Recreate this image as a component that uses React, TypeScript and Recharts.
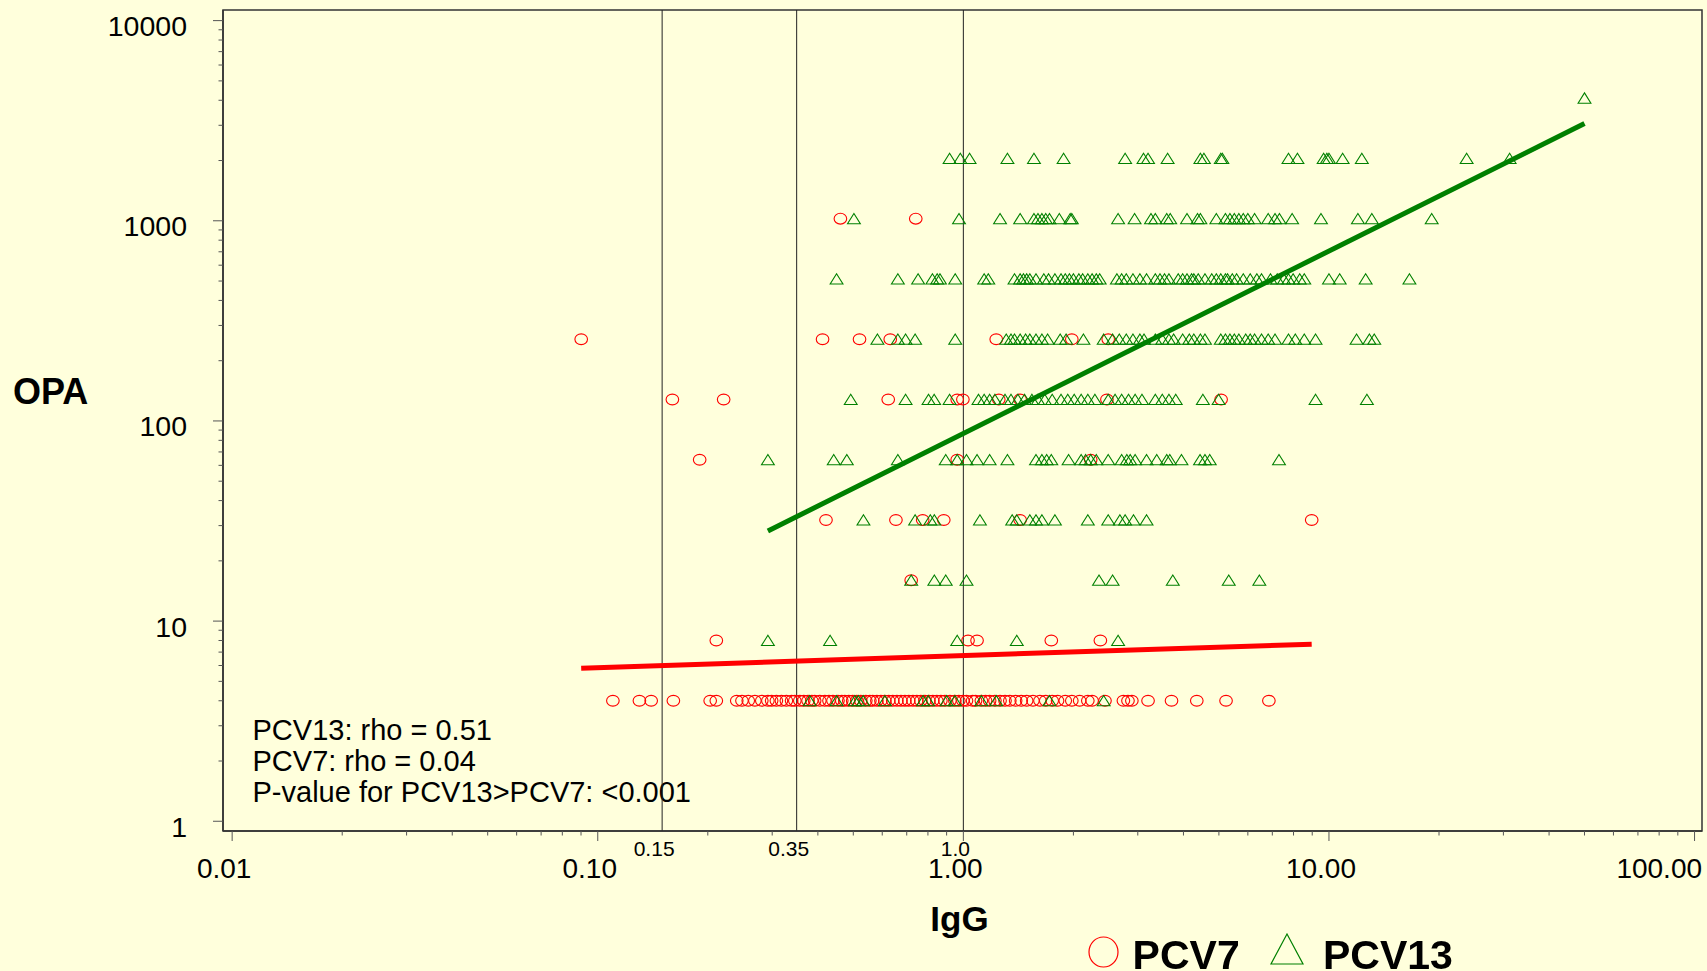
import React from "react";
import { ScatterChart, Scatter, XAxis, YAxis, ReferenceLine, ReferenceArea, Legend } from "recharts";

// OPA titre rows (doubling dilutions); each row array below lists IgG values
const opaLevels = [4, 8, 16, 32, 64, 128, 256, 512, 1024, 2048, 4096];

// PCV7 (circles) IgG values per OPA row
const pcv7At4 = [
  0.11, 0.13, 0.14, 0.161, 0.203, 0.211, 0.24, 0.248, 0.258, 0.269, 0.281, 0.292, 0.299, 0.308, 0.318,
  0.328, 0.339, 0.346, 0.357, 0.366, 0.376, 0.385, 0.392, 0.405, 0.418, 0.429, 0.44, 0.454, 0.465, 0.474,
  0.486, 0.498, 0.511, 0.524, 0.541, 0.555, 0.565, 0.58, 0.595, 0.61, 0.625, 0.641, 0.658, 0.675, 0.692,
  0.709, 0.728, 0.746, 0.765, 0.785, 0.805, 0.825, 0.846, 0.868, 0.89, 0.919, 0.948, 0.972, 0.997, 1.02,
  1.06, 1.08, 1.12, 1.15, 1.18, 1.22, 1.26, 1.3, 1.34, 1.39, 1.44, 1.49, 1.55, 1.62, 1.68, 1.75, 1.81,
  1.9, 1.98, 2.08, 2.19, 2.25, 2.44, 2.74, 2.82, 2.89, 3.2, 3.71, 4.35, 5.23, 6.85,
];
const pcv7At8 = [0.211, 1.03, 1.09, 1.74, 2.37];
const pcv7At16 = [0.72];
const pcv7At32 = [0.421, 0.654, 0.774, 0.884, 1.43, 8.97];
const pcv7At64 = [0.19, 0.962, 2.23];
const pcv7At128 = [0.16, 0.221, 0.623, 0.962, 0.997, 1.25, 1.43, 2.47, 5.07];
const pcv7At256 = [0.0901, 0.412, 0.52, 0.631, 1.23, 1.98, 2.49];
const pcv7At512: number[] = [];
const pcv7At1024 = [0.461, 0.741];
const pcv7At2048: number[] = [];
const pcv7At4096: number[] = [];

// PCV13 (triangles) IgG values per OPA row
const pcv13At4 = [0.38, 0.45, 0.505, 0.516, 0.532, 0.61, 0.776, 0.801, 0.9, 0.948, 1.12, 1.23, 1.72, 2.42];
const pcv13At8 = [0.292, 0.432, 0.962, 1.4, 2.65];
const pcv13At16 = [0.72, 0.833, 0.895, 1.02, 2.35, 2.56, 3.74, 5.32, 6.45];
const pcv13At32 = [
  0.533, 0.738, 0.812, 0.833, 1.11, 1.36, 1.4, 1.52, 1.58, 1.64, 1.78, 2.19, 2.49, 2.68, 2.77, 2.92, 3.17,
];
const pcv13At64 = [
  0.292, 0.442, 0.48, 0.662, 0.895, 0.962, 1.02, 1.09, 1.18, 1.32, 1.58, 1.64, 1.69, 1.74, 1.94, 2.1, 2.16,
  2.23, 2.31, 2.49, 2.71, 2.8, 2.86, 2.95, 3.17, 3.38, 3.6, 3.67, 3.95, 4.44, 4.58, 4.72, 7.3,
];
const pcv13At128 = [
  0.492, 0.695, 0.803, 0.832, 0.917, 1.1, 1.14, 1.18, 1.22, 1.3, 1.35, 1.41, 1.47, 1.54, 1.6, 1.67, 1.75,
  1.85, 1.93, 2.01, 2.1, 2.19, 2.29, 2.49, 2.6, 2.71, 2.83, 2.95, 3.08, 3.35, 3.5, 3.65, 3.81, 4.52, 4.99,
  9.19, 12.7,
];
const pcv13At256 = [
  0.582, 0.662, 0.695, 0.738, 0.95, 1.31, 1.35, 1.38, 1.43, 1.48, 1.52, 1.58, 1.64, 1.7, 1.84, 1.91, 2.13,
  2.42, 2.56, 2.67, 2.79, 2.91, 3.04, 3.12, 3.35, 3.5, 3.65, 3.76, 3.98, 4.15, 4.27, 4.45, 4.58, 5.06, 5.21,
  5.36, 5.51, 5.67, 5.92, 6.09, 6.26, 6.54, 6.82, 7.12, 7.75, 8.09, 8.56, 9.19, 11.9, 12.9, 13.3,
];
const pcv13At512 = [
  0.45, 0.662, 0.752, 0.823, 0.848, 0.863, 0.95, 1.14, 1.17, 1.38, 1.43, 1.46, 1.49, 1.52, 1.58, 1.66, 1.71,
  1.78, 1.85, 1.9, 1.95, 2.0, 2.07, 2.12, 2.19, 2.25, 2.31, 2.36, 2.63, 2.71, 2.79, 2.91, 3.04, 3.17, 3.35,
  3.45, 3.55, 3.65, 3.87, 3.98, 4.09, 4.21, 4.27, 4.39, 4.58, 4.78, 4.92, 5.06, 5.21, 5.28, 5.44, 5.59, 5.83,
  6.09, 6.35, 6.54, 6.92, 7.22, 7.53, 7.75, 7.98, 8.32, 8.56, 10.0, 10.7, 12.6, 16.6,
];
const pcv13At1024 = [
  0.502, 0.973, 1.26, 1.43, 1.56, 1.6, 1.64, 1.68, 1.72, 1.83, 1.96, 1.98, 2.65, 2.94, 3.26, 3.35, 3.6, 3.68,
  4.09, 4.37, 4.45, 4.92, 5.21, 5.36, 5.51, 5.67, 5.83, 6.0, 6.26, 6.82, 7.12, 7.32, 7.93, 9.51, 12.0, 13.1,
  19.1,
];
const pcv13At2048 = [
  0.917, 0.981, 1.04, 1.32, 1.56, 1.88, 2.77, 3.11, 3.2, 3.62, 4.45, 4.55, 5.06, 5.11, 7.75, 8.2, 9.67, 9.87,
  10.0, 10.9, 12.3, 23.8, 31.2,
];
const pcv13At4096 = [50.0];

// fitted regression lines (log-log), end points
const pcv13FitIgG = [0.292, 50];
const pcv13FitOpa = [28.2, 3060];
const pcv7FitIgG = [0.0901, 8.97];
const pcv7FitOpa = [5.82, 7.67];

// axes
const xDomain = [0.00944, 104.8];
const yDomain = [0.894, 11300];
const xMajorTicks = [0.01, 0.1, 1, 10, 100];
const xTickLabels = ["0.01", "0.10", "1.00", "10.00", "100.00"];
const yMajorTicks = [1, 10, 100, 1000, 10000];
const yTickLabels = ["1", "10", "100", "1000", "10000"];
const minorSteps = [2, 3, 4, 5, 6, 7, 8, 9];
const cutoffs = [0.15, 0.35, 1.0];
const cutoffLabels = ["0.15", "0.35", "1.0"];
const statsLines = ["PCV13: rho = 0.51", "PCV7: rho = 0.04", "P-value for PCV13>PCV7: <0.001"];

const FONT = '"Liberation Sans", Arial, sans-serif';
const BG = "#ffffdc";

const pcv7Rows = [pcv7At4, pcv7At8, pcv7At16, pcv7At32, pcv7At64, pcv7At128, pcv7At256, pcv7At512, pcv7At1024, pcv7At2048, pcv7At4096];
const pcv13Rows = [pcv13At4, pcv13At8, pcv13At16, pcv13At32, pcv13At64, pcv13At128, pcv13At256, pcv13At512, pcv13At1024, pcv13At2048, pcv13At4096];

const toPoints = (rows: number[][]) =>
  rows.flatMap((row, i) => row.map((igg) => ({ igg, opa: opaLevels[i] })));
const pcv7Data = toPoints(pcv7Rows);
const pcv13Data = toPoints(pcv13Rows);
const pcv13Fit = pcv13FitIgG.map((igg, i) => ({ igg, opa: pcv13FitOpa[i] }));
const pcv7Fit = pcv7FitIgG.map((igg, i) => ({ igg, opa: pcv7FitOpa[i] }));

const xMinor = xMajorTicks.slice(0, -1).flatMap((d) => minorSteps.map((m) => d * m));
const yMinor = yMajorTicks.slice(0, -1).flatMap((d) => minorSteps.map((m) => d * m));

const Circle = ({ cx, cy }: any) => (
  <ellipse cx={cx} cy={cy} rx={6.3} ry={5.4} fill="none" stroke="#ff0000" strokeWidth={1.1} />
);
const Triangle = ({ cx, cy }: any) => (
  <polygon
    points={`${cx},${cy - 5.3} ${cx + 6.4},${cy + 5} ${cx - 6.4},${cy + 5}`}
    fill="none"
    stroke="#008000"
    strokeWidth={1.1}
  />
);
const NoDot = () => <g />;

function XTick({ x, y, payload }: any) {
  const i = xMajorTicks.indexOf(payload.value);
  if (i < 0) return <line x1={x} x2={x} y1={y} y2={y + 4.5} stroke="#555" />;
  const last = i === xMajorTicks.length - 1;
  return (
    <g>
      <line x1={x} x2={x} y1={y} y2={y + 10} stroke="#555" />
      <text
        x={last ? x + 7.5 : x - 8}
        y={y + 47}
        textAnchor={last ? "end" : "middle"}
        fontFamily={FONT}
        fontSize={28}
        fill="#000"
      >
        {xTickLabels[i]}
      </text>
    </g>
  );
}

function YTick({ x, y, payload }: any) {
  const i = yMajorTicks.indexOf(payload.value);
  if (i < 0) return <line x1={x - 4.5} x2={x} y1={y} y2={y} stroke="#555" />;
  return (
    <g>
      <line x1={x - 10} x2={x} y1={y} y2={y} stroke="#555" />
      <text x={x - 36} y={y + 15.5} textAnchor="end" fontFamily={FONT} fontSize={28.5} fill="#000">
        {yTickLabels[i]}
      </text>
    </g>
  );
}

function CutLabel({ viewBox, text }: any) {
  if (!viewBox) return null;
  return (
    <text
      x={viewBox.x - 8}
      y={viewBox.y + viewBox.height + 25}
      textAnchor="middle"
      fontFamily={FONT}
      fontSize={21}
      fill="#000"
    >
      {text}
    </text>
  );
}

function LegendBox() {
  return (
    <svg width={400} height={50} style={{ overflow: "visible", display: "block" }}>
      <ellipse cx={18.5} cy={24} rx={14.5} ry={15} fill="none" stroke="#ff0000" strokeWidth={1.2} />
      <text x={47.6} y={41} fontFamily={FONT} fontWeight="bold" fontSize={41} fill="#000">
        PCV7
      </text>
      <polygon points="202,6 218,36 186,36" fill="none" stroke="#008000" strokeWidth={1.2} />
      <text x={238} y={41} fontFamily={FONT} fontWeight="bold" fontSize={41} fill="#000">
        PCV13
      </text>
    </svg>
  );
}

export default function App() {
  return (
    <div style={{ position: "fixed", left: 0, top: 0, width: 1707, height: 971, background: BG }}>
      <ScatterChart width={1707} height={971} margin={{ top: 10, right: 5, bottom: 0, left: 0 }}>
        <XAxis
          dataKey="igg"
          type="number"
          scale="log"
          domain={xDomain}
          allowDataOverflow
          ticks={[...xMajorTicks, ...xMinor]}
          interval={0}
          tick={<XTick />}
          tickLine={false}
          tickSize={0}
          tickMargin={0}
          height={140}
          axisLine={{ stroke: "#333", strokeWidth: 1.5 }}
        />
        <YAxis
          dataKey="opa"
          type="number"
          scale="log"
          domain={yDomain}
          allowDataOverflow
          ticks={[...yMajorTicks, ...yMinor]}
          interval={0}
          tick={<YTick />}
          tickLine={false}
          tickSize={0}
          tickMargin={0}
          width={223}
          axisLine={{ stroke: "#333", strokeWidth: 1.5 }}
        />
        <ReferenceArea
          x1={xDomain[0]}
          x2={xDomain[1]}
          y1={yDomain[0]}
          y2={yDomain[1]}
          fill="none"
          stroke="#333"
          strokeWidth={1.5}
        />
        {cutoffs.map((c, i) => (
          <ReferenceLine key={c} x={c} stroke="#222" strokeWidth={1} label={<CutLabel text={cutoffLabels[i]} />} />
        ))}
        <Scatter name="PCV7" data={pcv7Data} shape={<Circle />} isAnimationActive={false} />
        <Scatter name="PCV13" data={pcv13Data} shape={<Triangle />} isAnimationActive={false} />
        <Scatter
          data={pcv7Fit}
          line={{ stroke: "#ff0000", strokeWidth: 5 }}
          shape={<NoDot />}
          legendType="none"
          isAnimationActive={false}
        />
        <Scatter
          data={pcv13Fit}
          line={{ stroke: "#008000", strokeWidth: 5 }}
          shape={<NoDot />}
          legendType="none"
          isAnimationActive={false}
        />
        <Legend
          layout="horizontal"
          verticalAlign="middle"
          align="center"
          content={() => <LegendBox />}
          wrapperStyle={{ left: 1085, top: 928, width: 400, height: 50 }}
        />
        <text x={13} y={404} fontFamily={FONT} fontWeight="bold" fontSize={36} fill="#000">
          OPA
        </text>
        <text x={959.5} y={931} textAnchor="middle" fontFamily={FONT} fontWeight="bold" fontSize={35} fill="#000">
          IgG
        </text>
        {statsLines.map((s, i) => (
          <text key={s} x={252.5} y={740 + i * 31} fontFamily={FONT} fontSize={29} fill="#000">
            {s}
          </text>
        ))}
      </ScatterChart>
    </div>
  );
}
